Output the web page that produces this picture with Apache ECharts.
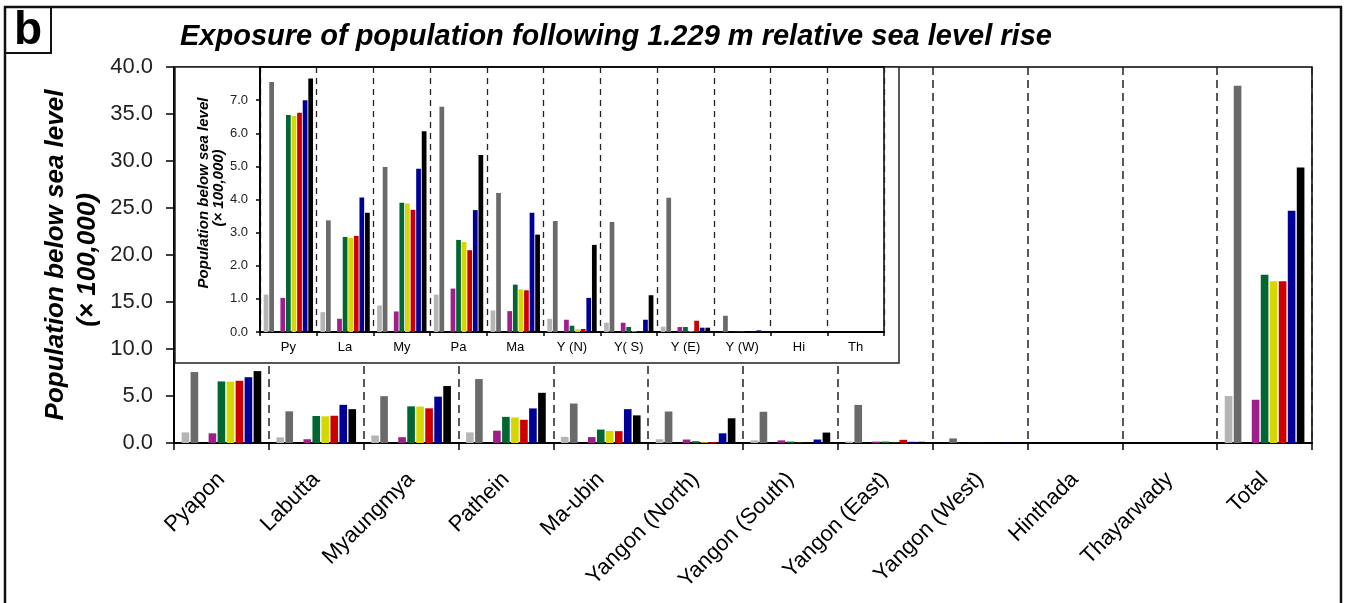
<!DOCTYPE html>
<html>
<head>
<meta charset="utf-8">
<script src="https://cdn.jsdelivr.net/npm/echarts@6/dist/echarts.min.js"></script>
<style>
html,body{margin:0;padding:0;background:#fff;}
#chart{width:1345px;height:603px;}
</style>
</head>
<body>
<div id="chart"></div>
<script>
// ---- data ----
const categories = ['Pyapon','Labutta','Myaungmya','Pathein','Ma-ubin','Yangon (North)','Yangon (South)','Yangon (East)','Yangon (West)','Hinthada','Thayarwady','Total'];
const insetCategories = ['Py','La','My','Pa','Ma','Y (N)','Y( S)','Y (E)','Y (W)','Hi','Th'];
const mainTicks = ['0.0','5.0','10.0','15.0','20.0','25.0','30.0','35.0','40.0'];
const insetTicks = ['0.0','1.0','2.0','3.0','4.0','5.0','6.0','7.0'];

const lightGray = [1.13, 0.60, 0.80, 1.13, 0.65, 0.40, 0.28, 0.16, 0, 0, 0, 5.0];
const darkGray  = [7.55, 3.37, 4.98, 6.80, 4.20, 3.35, 3.32, 4.05, 0.49, 0, 0, 38.0];
const blank     = [null, null, null, null, null, null, null, null, null, null, null, null];
const magenta   = [1.03, 0.40, 0.62, 1.31, 0.63, 0.37, 0.28, 0.15, 0.01, 0, 0, 4.6];
const green     = [6.55, 2.87, 3.90, 2.78, 1.43, 0.19, 0.15, 0.15, 0.02, 0, 0, 17.9];
const yellow    = [6.52, 2.84, 3.88, 2.72, 1.29, 0.08, 0.02, 0.02, 0, 0, 0, 17.2];
const red       = [6.62, 2.90, 3.69, 2.47, 1.26, 0.09, 0.01, 0.34, 0, 0, 0, 17.2];
const blue      = [7.00, 4.06, 4.93, 3.68, 3.60, 1.03, 0.37, 0.13, 0.05, 0, 0, 24.7];
const black     = [7.65, 3.60, 6.06, 5.34, 2.94, 2.63, 1.11, 0.13, 0, 0, 0, 29.3];

const seriesList = [
  {name:'s1', data: lightGray, color:'#b5b5b5'},
  {name:'s2', data: darkGray,  color:'#6a6a6a'},
  {name:'gap', data: blank,    color:'#ffffff'},
  {name:'s3', data: magenta,   color:'#9e1e8c'},
  {name:'s4', data: green,     color:'#006632'},
  {name:'s5', data: yellow,    color:'#d6d600'},
  {name:'s6', data: red,       color:'#cc0000'},
  {name:'s7', data: blue,      color:'#000099'},
  {name:'s8', data: black,     color:'#000000'}
];

const FONT = 'Liberation Sans, Arial, sans-serif';
const chart = echarts.init(document.getElementById('chart'), null, {renderer:'canvas'});

const series = [];
seriesList.forEach(s => {
  series.push({
    type:'bar', name:s.name, xAxisIndex:0, yAxisIndex:0, data:s.data,
    itemStyle:{color:s.color}, barGap:'18%', barCategoryGap:'16%', z:2,
    silent:true, animation:false
  });
});
seriesList.forEach(s => {
  series.push({
    type:'bar', name:s.name + '_inset', xAxisIndex:1, yAxisIndex:1, data:s.data.slice(0, insetCategories.length),
    itemStyle:{color:s.color}, barGap:'18%', barCategoryGap:'13%', z:6,
    silent:true, animation:false
  });
});

const option = {
  animation:false,
  backgroundColor:'#ffffff',
  grid:[
    {left:174, right:33, top:67, bottom:160, show:true, borderColor:'#000', borderWidth:1.5, backgroundColor:'transparent', outerBoundsMode:'none', containLabel:false, z:0},
    {left:260, width:624, top:67, height:265, show:true, borderColor:'#000', borderWidth:1.5, backgroundColor:'transparent', outerBoundsMode:'none', containLabel:false, z:5}
  ],
  xAxis:[
    {
      type:'category', gridIndex:0, data:categories,
      axisLine:{show:true, lineStyle:{color:'#000', width:2}},
      axisTick:{show:true, alignWithLabel:false, interval:0, length:7, lineStyle:{color:'#000', width:1.5}},
      axisLabel:{interval:0, rotate:45, fontSize:22, fontFamily:FONT, color:'#000', margin:33},
      splitLine:{show:true, interval:0, lineStyle:{color:'#222', width:1.5, type:[8,5]}},
      z:0
    },
    {
      type:'category', gridIndex:1, data:insetCategories,
      axisLine:{show:true, lineStyle:{color:'#000', width:2}},
      axisTick:{show:true, alignWithLabel:false, interval:0, length:4, lineStyle:{color:'#000', width:1.5}},
      axisLabel:{interval:0, fontSize:13, fontFamily:FONT, color:'#000', margin:9},
      splitLine:{show:true, interval:0, lineStyle:{color:'#222', width:1.3, type:[6,5]}},
      z:5
    }
  ],
  yAxis:[
    {
      type:'value', gridIndex:0, min:0, max:40, interval:5,
      axisLine:{show:true, lineStyle:{color:'#000', width:2}},
      axisTick:{show:true, length:8, lineStyle:{color:'#000', width:1.5}},
      axisLabel:{fontSize:22, fontFamily:FONT, color:'#222', margin:21,
        formatter: v => mainTicks[Math.round(v/5)] || ''},
      splitLine:{show:false},
      z:0
    },
    {
      type:'value', gridIndex:1, min:0, max:8, interval:1,
      axisLine:{show:true, lineStyle:{color:'#000', width:2}},
      axisTick:{show:true, length:4, lineStyle:{color:'#000', width:1.5}},
      axisLabel:{fontSize:13, fontFamily:FONT, color:'#222', margin:12, showMaxLabel:false,
        formatter: v => insetTicks[Math.round(v)] || ''},
      splitLine:{show:false},
      z:5
    }
  ],
  graphic:[
    {type:'rect', z:1, shape:{x:175, y:67, width:724, height:296}, style:{fill:'#fff', stroke:'#222', lineWidth:1.5}},
    {type:'rect', z:10, shape:{x:5, y:7, width:1336, height:640}, style:{fill:'none', stroke:'#111', lineWidth:2.5}},
    {type:'rect', z:10, shape:{x:5, y:7, width:46, height:46}, style:{fill:'none', stroke:'#111', lineWidth:2}},
    {type:'text', z:10, x:28, y:31, style:{text:'b', font:'bold 46px '+FONT, fill:'#000', textAlign:'center', textVerticalAlign:'middle'}},
    {type:'text', z:10, x:180, y:37, style:{text:'Exposure of population following 1.229 m relative sea level rise', font:'italic bold 29px '+FONT, fill:'#000', textAlign:'left', textVerticalAlign:'middle'}},
    {type:'text', z:10, x:56, y:255, rotation:Math.PI/2, style:{text:'Population below sea level', font:'italic bold 26px '+FONT, fill:'#000', textAlign:'center', textVerticalAlign:'middle'}},
    {type:'text', z:10, x:88, y:260, rotation:Math.PI/2, style:{text:'(× 100,000)', font:'italic bold 26px '+FONT, fill:'#000', textAlign:'center', textVerticalAlign:'middle'}},
    {type:'text', z:10, x:204, y:193, rotation:Math.PI/2, style:{text:'Population below sea level', font:'italic bold 15px '+FONT, fill:'#000', textAlign:'center', textVerticalAlign:'middle'}},
    {type:'text', z:10, x:219, y:188, rotation:Math.PI/2, style:{text:'(× 100,000)', font:'italic bold 15px '+FONT, fill:'#000', textAlign:'center', textVerticalAlign:'middle'}}
  ],
  series: series
};
chart.setOption(option);
</script>
</body>
</html>
